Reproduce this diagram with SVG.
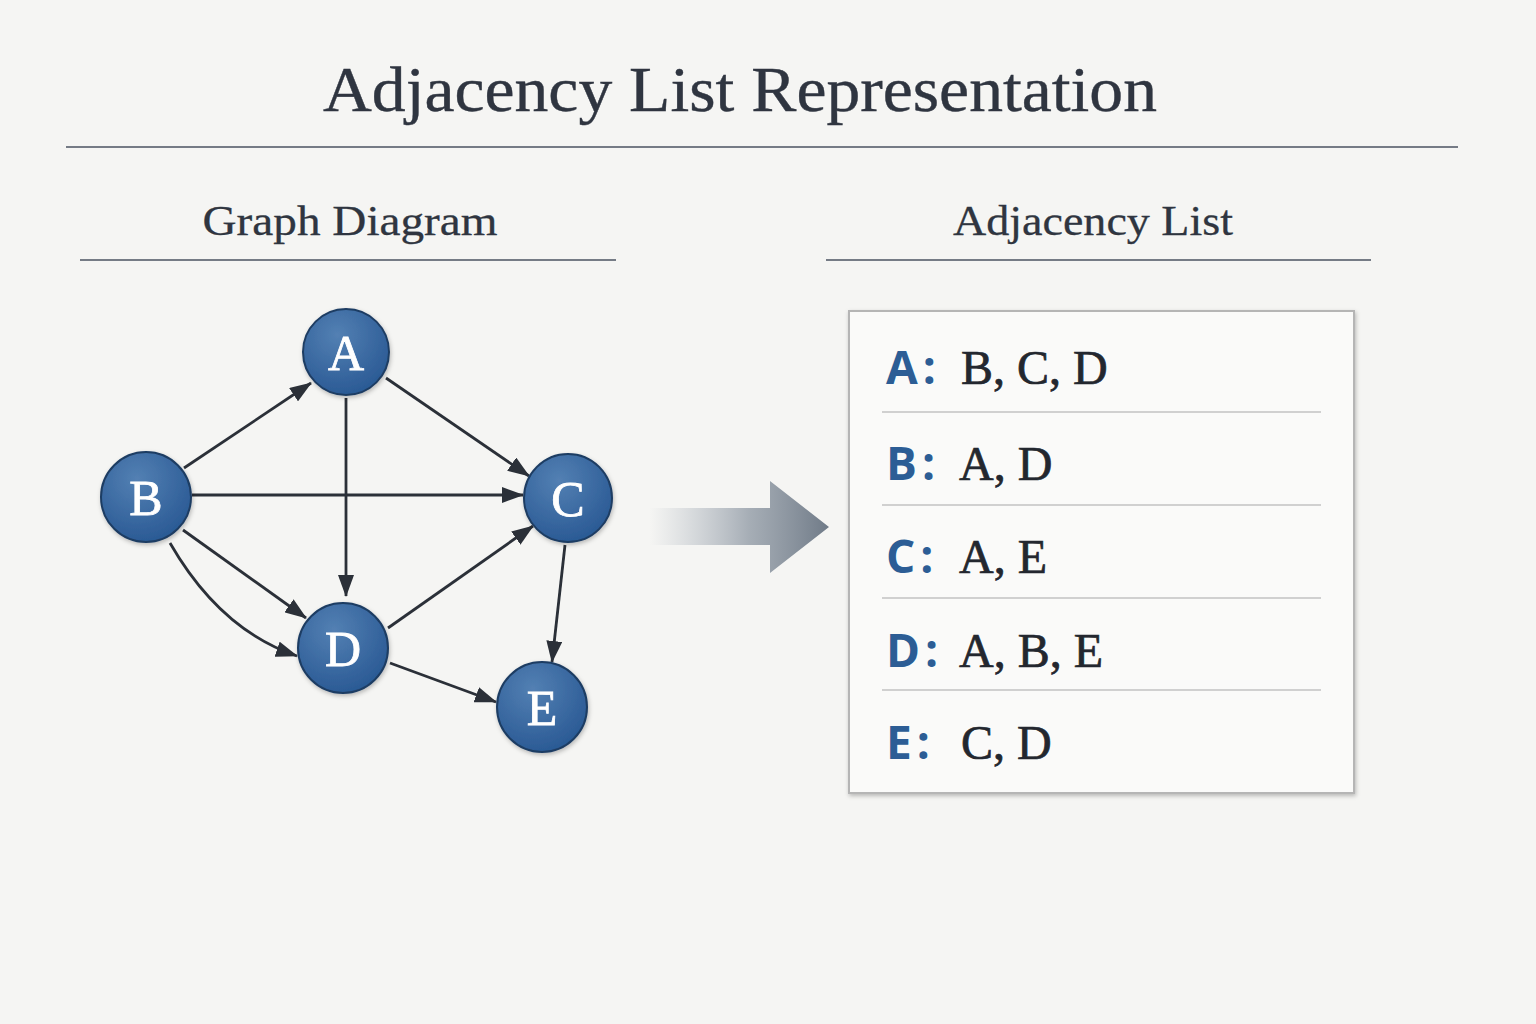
<svg xmlns="http://www.w3.org/2000/svg" width="1536" height="1024" viewBox="0 0 1536 1024">
<style>
.serif{font-family:"Liberation Serif","DejaVu Serif",serif}
.title{font-size:64px;fill:#2f3540;stroke:#2f3540;stroke-width:0.4}
.sub{font-size:43px;fill:#2f3540;stroke:#2f3540;stroke-width:0.3}
.rule{stroke:#4a5260;stroke-width:1.6}
.node circle{fill:url(#ng);stroke:#1f3d63;stroke-width:2;filter:url(#sh)}
.node text{font-family:"Liberation Serif","DejaVu Serif",serif;font-size:50px;fill:#ffffff;stroke:#ffffff;stroke-width:0.8;text-anchor:middle}
.edge{stroke:#2b3038;stroke-width:2.8;fill:none;marker-end:url(#ah)}
.key{font-family:"Open Sans","Noto Sans",sans-serif;font-weight:bold;font-size:46px;fill:#2c5d95;letter-spacing:5px}
.val{font-family:"Liberation Serif","DejaVu Serif",serif;font-size:48px;fill:#23272f;stroke:#23272f;stroke-width:0.7}
.sep{stroke:#c2c2c2;stroke-width:1.5}
</style>
<defs>
<radialGradient id="ng" cx="0.4" cy="0.3" r="0.75">
<stop offset="0" stop-color="#5380b3"/>
<stop offset="1" stop-color="#285893"/>
</radialGradient>
<linearGradient id="ag" x1="650" y1="0" x2="830" y2="0" gradientUnits="userSpaceOnUse">
<stop offset="0" stop-color="#aab2bc" stop-opacity="0"/>
<stop offset="0.55" stop-color="#98a1ab" stop-opacity="0.85"/>
<stop offset="1" stop-color="#6f7a87"/>
</linearGradient>
<marker id="ah" viewBox="0 0 22 16" refX="21" refY="8" markerWidth="22" markerHeight="16" markerUnits="userSpaceOnUse" orient="auto">
<path d="M0,0 L22,8 L0,16 z" fill="#2b3038"/>
</marker>
<filter id="sh" x="-20%" y="-20%" width="140%" height="140%">
<feDropShadow dx="1" dy="2" stdDeviation="2" flood-color="#000" flood-opacity="0.25"/>
</filter>
</defs>
<rect width="1536" height="1024" fill="#f5f5f3"/>

<text class="serif title" x="740" y="111" text-anchor="middle" textLength="834" lengthAdjust="spacingAndGlyphs">Adjacency List Representation</text>
<line class="rule" x1="66" y1="147" x2="1458" y2="147"/>

<text class="serif sub" x="350" y="235" text-anchor="middle" textLength="295" lengthAdjust="spacingAndGlyphs">Graph Diagram</text>
<line class="rule" x1="80" y1="260" x2="616" y2="260"/>
<text class="serif sub" x="1093" y="235" text-anchor="middle" textLength="280" lengthAdjust="spacingAndGlyphs">Adjacency List</text>
<line class="rule" x1="826" y1="260" x2="1371" y2="260"/>

<g id="connectors">
<line class="edge" x1="184" y1="468" x2="311" y2="383"/>
<line class="edge" x1="386" y1="378" x2="529" y2="476"/>
<line class="edge" x1="346" y1="398" x2="346" y2="596"/>
<line class="edge" x1="192" y1="495" x2="523" y2="495"/>
<line class="edge" x1="183" y1="530" x2="306" y2="618"/>
<path class="edge" d="M170,543 Q220,630 297,656"/>
<line class="edge" x1="388" y1="628" x2="533" y2="526"/>
<line class="edge" x1="565" y1="545" x2="552" y2="662"/>
<line class="edge" x1="390" y1="663" x2="496" y2="702"/>
</g>

<g id="node-A" class="node"><circle cx="346" cy="352" r="43"/><text x="346" y="370">A</text></g>
<g id="node-B" class="node"><circle cx="146" cy="497" r="45"/><text x="146" y="515">B</text></g>
<g id="node-C" class="node"><circle cx="568" cy="498" r="44"/><text x="568" y="516">C</text></g>
<g id="node-D" class="node"><circle cx="343" cy="648" r="45"/><text x="343" y="666">D</text></g>
<g id="node-E" class="node"><circle cx="542" cy="707" r="45"/><text x="542" y="725">E</text></g>

<g id="transform-arrow">
<path d="M650,508 L770,508 L770,481 L829,527 L770,573 L770,545 L650,545 z" fill="url(#ag)"/>
</g>

<g id="adjacency-list">
<rect x="849" y="311" width="505" height="482" fill="#fafaf9" stroke="#b5b5b5" stroke-width="2" filter="url(#sh)"/>
<line class="sep" x1="882" y1="412" x2="1321" y2="412"/>
<line class="sep" x1="882" y1="505" x2="1321" y2="505"/>
<line class="sep" x1="882" y1="598" x2="1321" y2="598"/>
<line class="sep" x1="882" y1="690" x2="1321" y2="690"/>
<text class="key" x="886" y="384">A:</text><text class="val" x="961" y="384">B, C, D</text>
<text class="key" x="886" y="480">B:</text><text class="val" x="959" y="480">A, D</text>
<text class="key" x="886" y="573">C:</text><text class="val" x="959" y="573">A, E</text>
<text class="key" x="886" y="667">D:</text><text class="val" x="959" y="667">A, B, E</text>
<text class="key" x="886" y="759">E:</text><text class="val" x="961" y="759">C, D</text>
</g>
</svg>
